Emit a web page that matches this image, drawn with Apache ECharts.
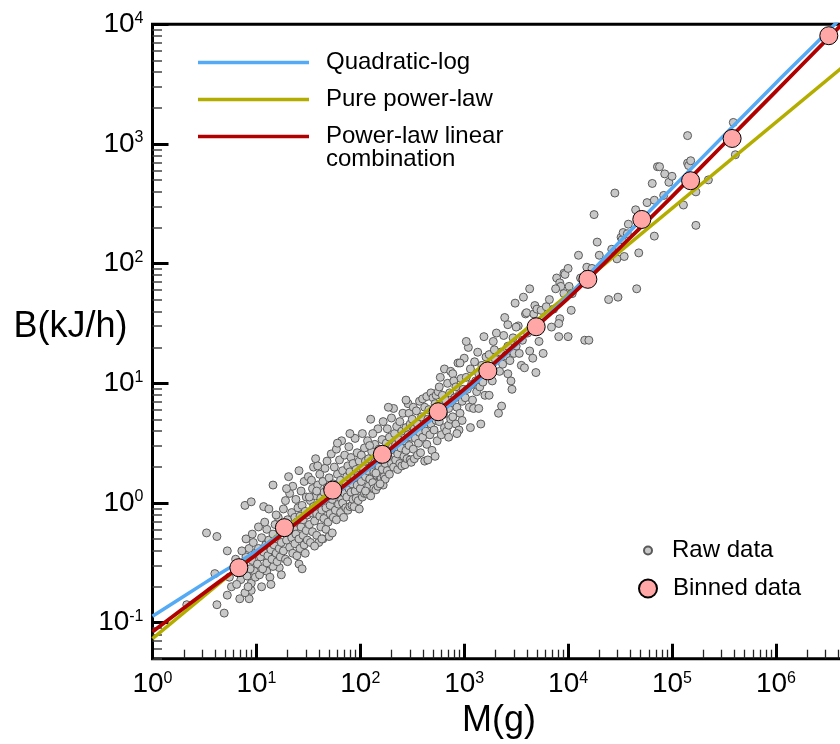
<!DOCTYPE html>
<html>
<head>
<meta charset="utf-8">
<script src="https://cdn.jsdelivr.net/npm/echarts@6/dist/echarts.min.js"></script>
<style>html,body{margin:0;padding:0;background:#fff}#c{width:840px;height:744px}</style>
</head>
<body>
<div id="c"></div>
<script>
// ---------------- data ----------------
// Binned data (M in g, B in kJ/h)
const binnedM = [6.78, 18.6, 54.3, 163, 562, 1690, 4930, 15500, 51200, 151000, 379000, 3230000];
const binnedB = [0.288, 0.622, 1.28, 2.55, 5.79, 12.7, 29.7, 74.0, 234, 493, 1112, 8030];

// Fitted curves
const curveM = [1, 3.16, 10, 31.6, 100, 316, 1000, 3160, 1e4, 3.16e4, 1e5, 3.16e5, 1e6, 3.16e6, 1e7];
const quadLogB = [0.113, 0.214, 0.398, 0.813, 1.70, 3.72, 8.32, 20.9, 53.7, 153, 427, 1175, 3236, 8710, 24500];
const plcB = [0.0841, 0.178, 0.372, 0.813, 1.78, 3.98, 8.91, 21.4, 51.3, 136, 363, 1000, 2754, 7586, 20900];
const powerM = [1, 1e7];
const powerB = [0.0736, 7940];

// Raw data, stored as [log10 M, log10 B]
const rawLog = [
[0.33,-0.85],[0.52,-0.25],[0.62,-0.28],[0.72,-0.40],[0.60,-0.59],[0.62,-0.85],[0.69,-0.92],[0.72,-0.77],[0.76,-0.70],[0.74,-0.62],
[0.84,-0.80],[0.93,-0.80],[0.95,-0.73],[0.89,-0.75],[0.85,-0.64],[0.95,-0.67],[0.98,-0.57],[0.89,-0.02],[0.95,0.01],[0.80,-0.47],[0.82,-0.58],[0.88,-0.52],[0.90,-0.45],[0.91,-0.61],[0.93,-0.38],[0.94,-0.55],[0.96,-0.48],[0.97,-0.33],[0.99,-0.42],[0.86,-0.40],[0.92,-0.70],[0.96,-0.26],[0.90,-0.30],[0.81,-0.68],[0.99,-0.62],
[1.05,-0.70],[1.10,-0.57],[1.22,-0.54],[1.16,-0.53],[1.07,-0.03],[1.16,0.15],[1.01,-0.51],[1.02,-0.38],[1.03,-0.60],[1.04,-0.45],[1.05,-0.29],[1.06,-0.55],[1.07,-0.41],[1.09,-0.35],[1.10,-0.50],[1.10,-0.22],[1.11,-0.44],[1.12,-0.31],[1.13,-0.62],[1.14,-0.39],[1.15,-0.47],[1.16,-0.26],[1.17,-0.35],[1.18,-0.18],[1.19,-0.42],[1.20,-0.49],[1.20,-0.30],[1.21,-0.12],[1.22,-0.38],[1.23,-0.24],[1.23,-0.45],[1.24,-0.33],[1.02,-0.20],[1.08,-0.16],[1.12,-0.05],[1.19,-0.10],[1.14,-0.68],[1.24,-0.60],
[1.26,-0.05],[1.26,-0.40],[1.27,-0.22],[1.28,0.02],[1.28,-0.47],[1.29,-0.31],[1.30,-0.14],[1.30,-0.49],[1.31,-0.25],[1.32,0.08],[1.32,-0.37],[1.33,-0.19],[1.34,-0.08],[1.34,-0.29],[1.35,-0.42],[1.35,0.14],[1.36,-0.21],[1.37,-0.12],[1.37,-0.34],[1.38,0.03],[1.38,-0.26],[1.39,-0.44],[1.39,-0.16],[1.40,-0.04],[1.41,-0.51],[1.41,-0.30],[1.41,0.27],[1.42,-0.11],[1.42,-0.38],[1.43,-0.20],[1.43,0.10],[1.44,-0.02],[1.45,-0.27],[1.45,-0.14],[1.46,-0.35],[1.46,0.18],[1.47,-0.07],[1.47,-0.42],[1.48,-0.23],[1.48,0.05],[1.49,-0.31],[1.49,-0.10],[1.31,0.22],[1.29,0.12],[1.44,-0.55],
[1.50,0.22],[1.51,-0.18],[1.52,0.02],[1.52,-0.33],[1.53,-0.08],[1.54,0.12],[1.54,-0.24],[1.55,0.30],[1.55,-0.03],[1.56,-0.15],[1.57,0.37],[1.57,0.06],[1.58,-0.27],[1.58,-0.09],[1.59,0.15],[1.60,-0.01],[1.60,-0.33],[1.61,-0.11],[1.61,0.24],[1.62,0.04],[1.62,-0.20],[1.63,-0.06],[1.64,0.18],[1.64,-0.30],[1.65,0.09],[1.65,-0.13],[1.66,0.01],[1.66,0.29],[1.67,-0.22],[1.67,-0.04],[1.68,0.13],[1.69,-0.16],[1.69,0.06],[1.70,-0.28],[1.70,0.21],[1.71,-0.02],[1.71,-0.09],[1.72,0.41],[1.72,0.10],[1.73,-0.25],[1.73,0.03],[1.74,0.16],[1.74,-0.12],[1.51,0.05],[1.56,-0.36],[1.59,0.31],[1.63,-0.30],[1.68,0.35],[1.53,0.19],[1.58,0.10],
[1.75,0.30],[1.76,-0.06],[1.76,0.14],[1.77,0.45],[1.77,-0.14],[1.78,0.07],[1.78,0.24],[1.79,-0.01],[1.80,0.36],[1.80,0.11],[1.81,-0.08],[1.81,0.19],[1.82,0.03],[1.82,0.52],[1.83,0.00],[1.83,0.27],[1.84,0.13],[1.84,-0.12],[1.85,0.08],[1.85,0.40],[1.86,0.17],[1.86,-0.04],[1.87,0.22],[1.87,0.05],[1.88,0.31],[1.88,-0.06],[1.89,0.12],[1.89,0.47],[1.90,-0.03],[1.90,0.26],[1.91,0.09],[1.91,0.38],[1.92,-0.02],[1.92,0.16],[1.93,0.03],[1.93,0.33],[1.94,-0.03],[1.94,0.21],[1.95,0.10],[1.95,0.54],[1.96,0.04],[1.96,0.28],[1.97,0.15],[1.97,0.42],[1.98,0.02],[1.98,0.23],[1.99,-0.05],[1.99,0.35],[1.78,0.50],[1.90,0.58],
[2.00,0.12],[2.01,0.40],[2.01,0.18],[2.02,0.58],[2.02,0.05],[2.03,0.29],[2.04,0.08],[2.04,0.46],[2.05,0.22],[2.05,0.35],[2.06,0.08],[2.07,0.27],[2.07,0.52],[2.08,0.14],[2.08,0.37],[2.09,0.20],[2.10,0.70],[2.10,0.06],[2.11,0.31],[2.11,0.43],[2.12,0.17],[2.13,0.26],[2.13,0.12],[2.14,0.49],[2.14,0.34],[2.15,0.11],[2.16,0.40],[2.16,0.23],[2.17,0.62],[2.17,0.14],[2.18,0.30],[2.18,0.45],[2.19,0.19],[2.20,0.36],[2.20,0.21],[2.21,0.53],[2.21,0.28],[2.22,0.68],[2.22,0.15],[2.23,0.41],[2.23,0.22],[2.24,0.33],[2.24,0.20],[2.05,0.10],[2.12,0.58],[2.19,0.16],[2.09,0.48],[2.15,0.25],
[2.25,0.50],[2.26,0.27],[2.26,0.62],[2.27,0.38],[2.28,0.24],[2.28,0.55],[2.29,0.44],[2.30,0.33],[2.30,0.71],[2.31,0.47],[2.32,0.79],[2.32,0.30],[2.33,0.58],[2.34,0.36],[2.34,0.49],[2.35,0.64],[2.36,0.41],[2.36,0.28],[2.37,0.53],[2.38,0.33],[2.38,0.68],[2.39,0.46],[2.40,0.31],[2.40,0.60],[2.41,0.75],[2.42,0.39],[2.42,0.52],[2.43,0.32],[2.44,0.63],[2.44,0.44],[2.45,0.37],[2.46,0.57],[2.46,0.83],[2.47,0.75],[2.47,0.48],[2.48,0.36],[2.48,0.66],[2.49,0.55],[2.49,0.34],[2.27,0.80],[2.44,0.86],
[2.50,0.70],[2.51,0.45],[2.51,0.80],[2.52,0.37],[2.52,0.62],[2.53,0.54],[2.54,0.77],[2.55,0.40],[2.55,0.66],[2.56,0.50],[2.57,0.85],[2.57,0.59],[2.58,0.42],[2.59,0.72],[2.60,0.87],[2.60,0.55],[2.61,0.64],[2.62,0.35],[2.62,0.80],[2.63,0.60],[2.64,0.49],[2.64,0.89],[2.65,0.36],[2.65,0.70],[2.66,0.78],[2.67,0.57],[2.68,0.92],[2.68,0.66],[2.69,0.44],[2.70,0.88],[2.70,0.74],[2.71,0.61],[2.72,0.39],[2.72,0.83],[2.73,0.90],[2.73,0.69],[2.74,0.52],[2.74,0.78],
[2.75,0.93],[2.76,0.68],[2.76,0.97],[2.77,1.05],[2.78,0.82],[2.78,0.57],[2.79,0.90],[2.80,0.74],[2.81,1.12],[2.81,0.63],[2.82,0.86],[2.83,0.60],[2.84,1.00],[2.85,0.65],[2.85,0.79],[2.86,0.92],[2.87,1.10],[2.87,0.70],[2.88,0.84],[2.89,0.72],[2.89,1.08],[2.90,1.02],[2.91,0.88],[2.92,0.66],[2.92,0.97],[2.93,0.80],[2.94,1.17],[2.95,0.90],[2.95,0.61],[2.96,0.75],[2.97,1.04],[2.98,0.85],[2.98,0.69],[2.99,0.95],[2.85,0.55],[2.93,0.58],
[3.00,1.21],[3.01,0.88],[3.02,1.05],[3.03,0.95],[3.04,1.30],[3.05,0.80],[3.06,0.63],[3.06,1.12],[3.07,0.99],[3.08,0.86],[3.09,0.79],[3.10,1.18],[3.11,1.02],[3.12,0.93],[3.13,1.26],[3.14,0.79],[3.14,1.08],[3.15,0.97],[3.16,0.66],[3.17,1.15],[3.18,1.01],[3.19,1.39],[3.20,0.90],[3.21,1.22],[3.22,1.07],[3.24,0.90],[3.24,1.24],[3.25,1.14],[3.02,1.35],[2.96,1.17],
[3.28,1.35],[3.38,1.40],[3.42,1.31],[3.50,1.31],[3.42,1.49],[3.49,1.67],[3.34,1.10],[3.42,1.08],[3.36,0.81],[3.33,0.75],[3.30,1.20],[3.27,1.02],[3.31,1.42],[3.35,1.26],[3.37,1.16],[3.40,1.23],[3.44,1.19],[3.45,1.02],[3.47,1.38],[3.39,1.55],[3.29,1.28],[3.46,0.95],[3.48,1.25],
[3.52,1.48],[3.50,1.47],[3.53,1.25],[3.55,1.15],[3.58,1.13],[3.59,1.58],[3.60,1.59],[3.63,1.27],[3.63,1.79],[3.66,1.21],[3.67,1.58],[3.68,1.65],[3.70,1.62],[3.74,1.61],[3.56,1.36],[3.61,1.42],[3.65,1.47],[3.72,1.35],[3.57,1.72],[3.69,1.09],
[3.76,1.25],[3.79,1.64],[3.84,1.47],[3.89,1.88],[3.92,1.54],[3.91,1.39],[3.92,1.84],[3.93,1.81],[3.88,1.79],[3.96,1.92],[3.97,1.91],[3.96,1.75],[4.00,1.96],[3.91,1.50],[3.82,1.70],[3.86,1.62],
[4.00,1.39],[4.01,1.81],[4.03,1.75],[4.04,1.75],[4.03,1.61],[4.10,2.07],[4.16,1.36],[4.20,1.36],[4.18,1.97],[4.23,1.96],[4.25,2.41],[4.28,2.18],[4.30,2.07],[4.39,1.70],[4.42,2.12],[4.45,2.59],[4.47,2.04],[4.48,1.72],[4.12,1.88],
[4.51,2.22],[4.52,2.20],[4.53,2.26],[4.54,2.06],[4.57,2.25],[4.58,2.33],[4.65,2.45],[4.66,1.79],[4.68,2.09],[4.76,2.51],[4.81,2.67],[4.83,2.23],[4.83,2.53],[4.86,2.81],[4.88,2.81],[4.92,2.57],[4.93,2.75],[4.97,2.68],
[5.00,2.73],[5.11,2.49],[5.15,3.07],[5.15,2.84],[5.16,2.82],[5.18,2.86],[5.23,2.60],[5.23,2.32],[5.35,2.70],[5.59,3.18],[5.61,2.91],[6.51,3.90]
];

// Axis ticks / tick labels (exponents of 10)
const xLabelExps = [0, 1, 2, 3, 4, 5, 6];
const yLabelExps = [-1, 0, 1, 2, 3, 4];
const xMin = 1, xMax = 1e7, yMin = 0.05, yMax = 1e4;

// ---------------- chart ----------------
const FONT = '"Liberation Sans", Arial, Helvetica, sans-serif';
const xMajor = [0, 1, 2, 3, 4, 5, 6, 7].map(e => Math.pow(10, e));
const yMajor = [-2, -1, 0, 1, 2, 3, 4].map(e => Math.pow(10, e));
function minorTicks(lo, hi) {
  const out = [];
  for (let e = Math.floor(Math.log10(lo)) ; e < Math.log10(hi); e++) {
    for (let k = 2; k <= 9; k++) { const v = k * Math.pow(10, e); if (v >= lo && v <= hi) out.push(v); }
  }
  return out;
}
const xMinor = minorTicks(xMin, xMax);
const yMinor = minorTicks(yMin, yMax);

const rich = {
  b: { fontSize: 28, fontFamily: FONT, color: '#000', lineHeight: 28 },
  s: { fontSize: 16, fontFamily: FONT, color: '#000', lineHeight: 16, verticalAlign: 'top' }
};
function powLabel(v) { const e = Math.round(Math.log10(v)); return '{b|10}{s|' + e + '}'; }

const GRID = { left: 152.5, top: 24.3, width: 727.3, height: 634.4 };

const rawData = rawLog.map(p => [Math.pow(10, p[0]), Math.pow(10, p[1])]);
const binnedData = binnedM.map((m, i) => [m, binnedB[i]]);
const quadData = curveM.map((m, i) => [m, quadLogB[i]]);
const plcData = curveM.map((m, i) => [m, plcB[i]]);
const powerData = powerM.map((m, i) => [m, powerB[i]]);

function legendStyle(gap) {
  return { fontSize: 24, fontFamily: FONT, color: '#000', lineHeight: 23,
    rich: { g: { width: gap, height: 1 } } };
}
function gapFmt(name) { return name.split('\n').map(l => l === '' ? '' : '{g|}' + l).join('\n'); }

const chart = echarts.init(document.getElementById('c'), null, { renderer: 'canvas', width: 840, height: 744 });
chart.setOption({
  animation: false,
  backgroundColor: '#fff',
  grid: [
    Object.assign({ show: true, borderColor: '#000', borderWidth: 3, backgroundColor: 'transparent', containLabel: false, outerBoundsMode: 'none' }, GRID),
    Object.assign({ show: false, containLabel: false, outerBoundsMode: 'none' }, GRID)
  ],
  xAxis: [
    { type: 'log', logBase: 10, gridIndex: 0, min: xMin, max: xMax, position: 'bottom',
      axisLine: { show: false }, splitLine: { show: false }, minorTick: { show: false },
      axisTick: { show: true, inside: true, length: 15, customValues: xMajor, lineStyle: { color: '#000', width: 3 } },
      axisLabel: { show: true, customValues: xLabelExps.map(e => Math.pow(10, e)), formatter: powLabel, margin: 12, rich: rich } },
    { type: 'log', logBase: 10, gridIndex: 1, min: xMin, max: xMax, position: 'bottom',
      axisLine: { show: false }, splitLine: { show: false }, axisLabel: { show: false },
      axisTick: { show: true, inside: true, length: 9, customValues: xMinor, lineStyle: { color: '#222', width: 1.3 } } }
  ],
  yAxis: [
    { type: 'log', logBase: 10, gridIndex: 0, min: yMin, max: yMax, position: 'left',
      axisLine: { show: false }, splitLine: { show: false }, minorTick: { show: false },
      axisTick: { show: true, inside: true, length: 16, customValues: yMajor, lineStyle: { color: '#000', width: 3 } },
      axisLabel: { show: true, customValues: yLabelExps.map(e => Math.pow(10, e)), formatter: powLabel, margin: 9, rich: rich } },
    { type: 'log', logBase: 10, gridIndex: 1, min: yMin, max: yMax, position: 'left',
      axisLine: { show: false }, splitLine: { show: false }, axisLabel: { show: false },
      axisTick: { show: true, inside: true, length: 9.5, customValues: yMinor, lineStyle: { color: '#444', width: 1.5 } } }
  ],
  legend: [
    { data: ['Quadratic-log'], left: 198, top: 50.5, padding: 0, icon: 'rect', itemWidth: 111, itemHeight: 3.5, itemGap: 0,
      formatter: gapFmt, textStyle: legendStyle(12), selectedMode: false },
    { data: ['Pure power-law'], left: 198, top: 87.5, padding: 0, icon: 'rect', itemWidth: 111, itemHeight: 3.5, itemGap: 0,
      formatter: gapFmt, textStyle: legendStyle(12), selectedMode: false },
    { data: ['Power-law linear combination'], left: 198, top: 101.5, padding: 0, icon: 'rect', itemWidth: 111, itemHeight: 3.5, itemGap: 0,
      formatter: () => gapFmt('\nPower-law linear\ncombination'), textStyle: legendStyle(12), selectedMode: false },
    { data: ['Raw data'], left: 643, top: 538.5, padding: 0, icon: 'circle', itemWidth: 8, itemHeight: 8, itemGap: 0,
      formatter: gapFmt, textStyle: legendStyle(15), selectedMode: false },
    { data: ['Binned data'], left: 638, top: 576.5, padding: 0, icon: 'circle', itemWidth: 18, itemHeight: 18, itemGap: 0,
      formatter: gapFmt, textStyle: legendStyle(11), selectedMode: false }
  ],
  graphic: [
    { type: 'text', x: 499, y: 721, silent: true, style: { text: 'M(g)', fontSize: 36, fontFamily: FONT, fill: '#000', align: 'center', verticalAlign: 'middle' } },
    { type: 'text', x: 70.5, y: 327, silent: true, style: { text: 'B(kJ/h)', fontSize: 36, fontFamily: FONT, fill: '#000', align: 'center', verticalAlign: 'middle' } }
  ],
  series: [
    { name: 'Raw data', type: 'scatter', xAxisIndex: 0, yAxisIndex: 0, data: rawData, symbol: 'circle', symbolSize: 8, z: 2,
      itemStyle: { color: '#c8c8c8', borderColor: '#5a5a5a', borderWidth: 1, opacity: 1 } },
    { name: 'Pure power-law', type: 'line', xAxisIndex: 0, yAxisIndex: 0, data: powerData, showSymbol: false, symbol: 'none', z: 3,
      lineStyle: { color: '#b3ad00', width: 3.5 }, itemStyle: { color: '#b3ad00' } },
    { name: 'Quadratic-log', type: 'line', xAxisIndex: 0, yAxisIndex: 0, data: quadData, showSymbol: false, symbol: 'none', smooth: 0.3, z: 3,
      lineStyle: { color: '#55aaf5', width: 3.5 }, itemStyle: { color: '#55aaf5' } },
    { name: 'Power-law linear combination', type: 'line', xAxisIndex: 0, yAxisIndex: 0, data: plcData, showSymbol: false, symbol: 'none', smooth: 0.3, z: 4,
      lineStyle: { color: '#b00000', width: 3.8 }, itemStyle: { color: '#b00000' } },
    { name: 'Binned data', type: 'scatter', xAxisIndex: 0, yAxisIndex: 0, data: binnedData, symbol: 'circle', symbolSize: 18, z: 5,
      itemStyle: { color: '#ffa6a6', borderColor: '#000', borderWidth: 1, opacity: 1 } }
  ]
});
</script>
</body>
</html>
